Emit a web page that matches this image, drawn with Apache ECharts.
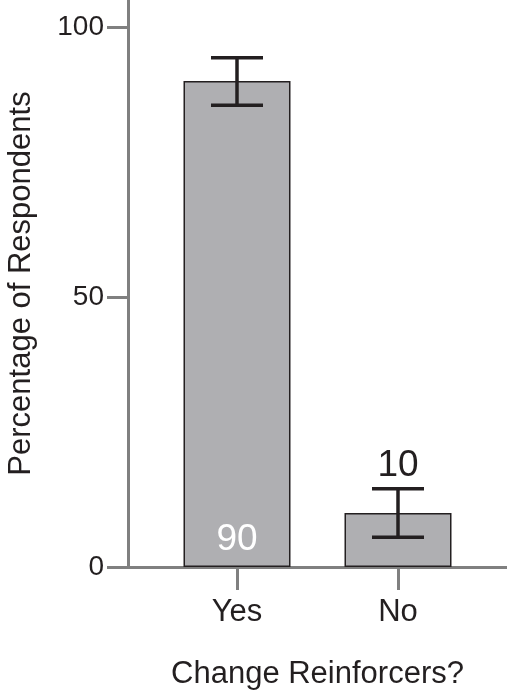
<!DOCTYPE html>
<html>
<head>
<meta charset="utf-8">
<script src="https://cdn.jsdelivr.net/npm/echarts@6/dist/echarts.min.js"></script>
<style>
html,body{margin:0;padding:0;background:#fff;}
#chart{width:507px;height:700px;}
</style>
</head>
<body>
<div id="chart"></div>
<script>
// data
var categories = ['Yes', 'No'];
var positions = [1, 2];
var means = [90, 10];
var errLow = [85.5, 5.5];
var errHigh = [94.3, 14.5];
var yTicks = [0, 50, 100];

var barData = [];
var errData = [];
for (var i = 0; i < categories.length; i++) {
	barData.push({
		value: [positions[i], means[i]],
		label: i == 0
			? {show: true, position: 'insideBottom', distance: 9, color: '#fff'}
			: {show: true, position: 'top', distance: 29, color: '#231f20'}
	});
	errData.push([positions[i], errLow[i], errHigh[i]]);
}

var myChart = echarts.init(document.getElementById('chart'));
var axisGray = '#808080';
var font = 'Liberation Sans, Arial, Helvetica, sans-serif';

option = {
	animation: false,
	backgroundColor: '#fff',
	grid: {left: 128, right: 0, top: 0, bottom: 133, containLabel: false, outerBoundsMode: 'none'},
	xAxis: {
		type: 'value',
		min: 0.323,
		max: 2.677,
		name: 'Change Reinforcers?',
		nameLocation: 'middle',
		nameGap: 92,
		nameTextStyle: {fontSize: 31, color: '#231f20', fontFamily: font},
		splitLine: {show: false},
		axisLine: {onZero: false, lineStyle: {color: axisGray, width: 3}},
		axisTick: {show: true, inside: false, length: 23, customValues: positions, lineStyle: {color: axisGray, width: 3}},
		axisLabel: {
			customValues: positions, margin: 30, fontSize: 31, color: '#231f20', fontFamily: font,
			formatter: function (v) { return categories[positions.indexOf(v)] || ''; }
		}
	},
	yAxis: {
		type: 'value',
		min: 0,
		max: 105,
		name: 'Percentage of Respondents',
		nameLocation: 'middle',
		nameGap: 91,
		nameTextStyle: {fontSize: 31, color: '#231f20', fontFamily: font},
		splitLine: {show: false},
		axisLine: {show: true, onZero: false, lineStyle: {color: axisGray, width: 3}},
		axisTick: {show: true, length: 21, customValues: yTicks, lineStyle: {color: axisGray, width: 3}},
		axisLabel: {customValues: yTicks, margin: 24, fontSize: 28, color: '#231f20', fontFamily: font}
	},
	series: [
		{
			type: 'bar',
			barWidth: 107,
			data: barData,
			itemStyle: {color: '#afafb2', borderColor: '#231f20', borderWidth: 1.5},
			label: {fontSize: 37, fontFamily: font, formatter: function (p) { return p.value[1]; }}
		},
		{
			type: 'custom',
			data: errData,
			z: 5,
			renderItem: function (params, api) {
				var lo = api.coord([api.value(0), api.value(1)]);
				var hi = api.coord([api.value(0), api.value(2)]);
				var hw = 26;
				var st = {stroke: '#231f20', lineWidth: 3.5};
				return {
					type: 'group',
					children: [
						{type: 'line', shape: {x1: lo[0], y1: lo[1], x2: hi[0], y2: hi[1]}, style: st},
						{type: 'line', shape: {x1: hi[0] - hw, y1: hi[1], x2: hi[0] + hw, y2: hi[1]}, style: st},
						{type: 'line', shape: {x1: lo[0] - hw, y1: lo[1], x2: lo[0] + hw, y2: lo[1]}, style: st}
					]
				};
			}
		}
	]
};
myChart.setOption(option);
</script>
</body>
</html>
